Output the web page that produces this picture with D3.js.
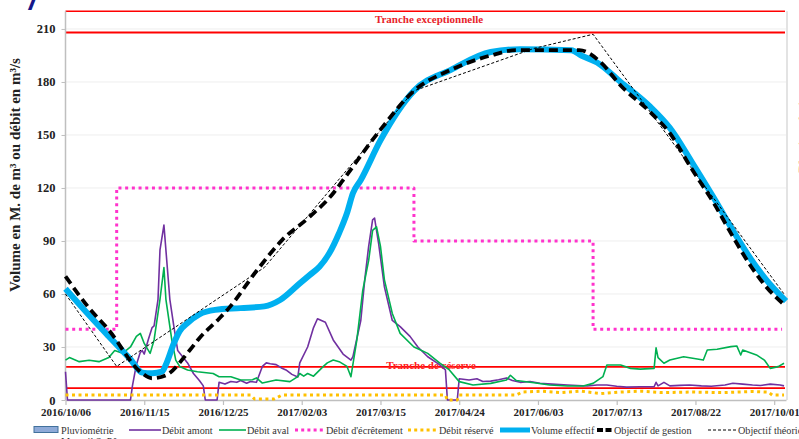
<!DOCTYPE html>
<html>
<head>
<meta charset="utf-8">
<script src="https://cdn.jsdelivr.net/npm/d3@7"></script>
<style>
  html, body { margin: 0; padding: 0; background: #fff; }
  svg { display: block; }
</style>
</head>
<body>
<svg id="chart" width="799" height="439"></svg>
<script>
// ---- Axis ticks -------------------------------------------------------
const xTickLabels = ["2016/10/06", "2016/11/15", "2016/12/25", "2017/02/03", "2017/03/15",
                     "2017/04/24", "2017/06/03", "2017/07/13", "2017/08/22", "2017/10/01"];
const yTickValues = [0, 30, 60, 90, 120, 150, 180, 210];

// ---- Thresholds (M. m3 / m3/s) -----------------------------------------
const trancheExceptionnelle = [208, 220];
const trancheReserve = 18.7;
const seuilBas = 6.7;

// ---- Débit amont (m3/s) -------------------------------------------------
const debitAmont = [
  ["2016-10-06", 16], ["2016-10-07", 0], ["2016-11-08", 0], ["2016-11-09", 8], ["2016-11-11", 20],
  ["2016-11-13", 27], ["2016-11-14", 28], ["2016-11-15", 26], ["2016-11-17", 34], ["2016-11-19", 41],
  ["2016-11-20", 42], ["2016-11-22", 57], ["2016-11-23", 85], ["2016-11-25", 99], ["2016-11-26", 85],
  ["2016-11-28", 57], ["2016-11-30", 42], ["2016-12-02", 28], ["2016-12-07", 21], ["2016-12-10", 15],
  ["2016-12-13", 11], ["2016-12-15", 8], ["2016-12-16", 0], ["2016-12-22", 0], ["2016-12-23", 10],
  ["2016-12-26", 9], ["2016-12-29", 10.5], ["2017-01-01", 10], ["2017-01-03", 11], ["2017-01-06", 9.5],
  ["2017-01-08", 10.5], ["2017-01-11", 10], ["2017-01-14", 19], ["2017-01-16", 21], ["2017-01-18", 20.5],
  ["2017-01-21", 20], ["2017-01-24", 18], ["2017-01-26", 17], ["2017-01-29", 14.5], ["2017-02-01", 13],
  ["2017-02-02", 21], ["2017-02-06", 30], ["2017-02-09", 41], ["2017-02-11", 46], ["2017-02-13", 45],
  ["2017-02-15", 44], ["2017-02-19", 34], ["2017-02-24", 26], ["2017-02-28", 22.6], ["2017-03-01", 24.5],
  ["2017-03-05", 45], ["2017-03-07", 68], ["2017-03-09", 87], ["2017-03-11", 102], ["2017-03-12", 103],
  ["2017-03-14", 89], ["2017-03-17", 64], ["2017-03-21", 45], ["2017-03-25", 41.5], ["2017-03-30", 36],
  ["2017-04-03", 30], ["2017-04-08", 24.5], ["2017-04-14", 20], ["2017-04-17", 17], ["2017-04-18", 0],
  ["2017-04-23", 0], ["2017-04-24", 12], ["2017-04-29", 11.3], ["2017-05-03", 12], ["2017-05-06", 10.5],
  ["2017-05-10", 10.7], ["2017-05-14", 11.5], ["2017-05-18", 12.5], ["2017-05-21", 11], ["2017-05-25", 10],
  ["2017-05-30", 10.5], ["2017-06-04", 9.5], ["2017-06-10", 9], ["2017-06-18", 8.5], ["2017-06-28", 7.9],
  ["2017-07-03", 8.5], ["2017-07-08", 8.5], ["2017-07-13", 7.8], ["2017-07-18", 7.3], ["2017-07-25", 7.5],
  ["2017-08-01", 7.5], ["2017-08-02", 10], ["2017-08-03", 8], ["2017-08-06", 10], ["2017-08-09", 8],
  ["2017-08-14", 8.3], ["2017-08-19", 8.5], ["2017-08-25", 8], ["2017-08-30", 7.8], ["2017-09-06", 8.5],
  ["2017-09-10", 9.5], ["2017-09-15", 9], ["2017-09-20", 8.5], ["2017-09-24", 8.2], ["2017-09-29", 9],
  ["2017-10-04", 8.5], ["2017-10-06", 8]
];

// ---- Débit aval (m3/s) --------------------------------------------------
const debitAval = [
  ["2016-10-06", 22.6], ["2016-10-08", 24], ["2016-10-13", 21.7], ["2016-10-18", 22.5], ["2016-10-23", 21.7],
  ["2016-10-28", 24], ["2016-10-31", 28], ["2016-11-04", 26.4], ["2016-11-08", 30], ["2016-11-11", 36],
  ["2016-11-13", 37.7], ["2016-11-15", 32], ["2016-11-18", 26.4], ["2016-11-20", 34], ["2016-11-23", 57],
  ["2016-11-25", 75], ["2016-11-26", 57], ["2016-11-29", 34], ["2016-12-01", 22.6], ["2016-12-03", 19],
  ["2016-12-07", 17], ["2016-12-12", 16], ["2016-12-20", 15], ["2016-12-23", 13.2], ["2016-12-29", 13.2],
  ["2017-01-03", 11.3], ["2017-01-09", 11.5], ["2017-01-11", 12.5], ["2017-01-14", 9.6], ["2017-01-21", 11.3],
  ["2017-01-28", 10.4], ["2017-02-01", 13.2], ["2017-02-02", 15], ["2017-02-04", 13.5], ["2017-02-06", 15],
  ["2017-02-09", 13.5], ["2017-02-14", 19], ["2017-02-16", 21], ["2017-02-19", 22.6], ["2017-02-22", 21.7],
  ["2017-02-26", 19], ["2017-02-28", 13.2], ["2017-03-03", 34], ["2017-03-06", 62], ["2017-03-09", 79],
  ["2017-03-11", 96], ["2017-03-13", 98], ["2017-03-15", 87], ["2017-03-17", 68], ["2017-03-21", 49],
  ["2017-03-25", 37.7], ["2017-04-01", 30], ["2017-04-03", 29], ["2017-04-08", 26.4], ["2017-04-14", 21],
  ["2017-04-19", 17], ["2017-04-24", 10.4], ["2017-05-01", 8.5], ["2017-05-10", 9.4], ["2017-05-18", 11.3],
  ["2017-05-20", 14], ["2017-05-23", 11], ["2017-06-01", 9.8], ["2017-06-09", 8.5], ["2017-06-18", 7.9],
  ["2017-06-26", 7.9], ["2017-07-01", 9.4], ["2017-07-06", 13.2], ["2017-07-08", 19.8], ["2017-07-15", 19.8],
  ["2017-07-20", 17.9], ["2017-07-25", 17.5], ["2017-08-01", 17.9], ["2017-08-02", 29.5], ["2017-08-03", 24],
  ["2017-08-06", 20.8], ["2017-08-09", 22.6], ["2017-08-16", 24.5], ["2017-08-26", 22.6], ["2017-08-28", 28.3],
  ["2017-09-02", 28.7], ["2017-09-09", 30.2], ["2017-09-12", 30.6], ["2017-09-14", 25.5], ["2017-09-15", 28.3],
  ["2017-09-22", 25.5], ["2017-09-26", 22.6], ["2017-09-29", 17.9], ["2017-10-03", 18.9], ["2017-10-06", 20.8]
];

// ---- Débit d'écrêtement (m3/s), step function ----------------------------
const debitEcretement = [
  ["2016-10-06", 40], ["2016-11-01", 40], ["2016-11-01", 120], ["2017-04-01", 120],
  ["2017-04-01", 90], ["2017-07-01", 90], ["2017-07-01", 40], ["2017-10-05", 40]
];

// ---- Débit réservé (m3/s) ------------------------------------------------
const debitReserve = [
  ["2016-10-06", 2.8], ["2017-01-08", 2.8], ["2017-01-10", 0.6], ["2017-01-20", 0.6], ["2017-01-24", 2.8],
  ["2017-04-17", 2.8], ["2017-04-18", 0], ["2017-04-23", 0], ["2017-04-24", 2.8], ["2017-05-23", 2.8],
  ["2017-05-26", 4.5], ["2017-06-05", 5], ["2017-06-15", 4.2], ["2017-06-25", 5], ["2017-07-05", 3.6],
  ["2017-07-15", 4.5], ["2017-07-25", 5], ["2017-08-05", 4.2], ["2017-08-20", 4.5], ["2017-09-05", 4.2],
  ["2017-09-20", 4.8], ["2017-09-28", 4.5], ["2017-09-30", 2.8], ["2017-10-06", 2.8]
];

// ---- Volume effectif (M. m3) --------------------------------------------
const volumeEffectif = [
  ["2016-10-06", 63], ["2016-10-18", 48], ["2016-10-28", 36], ["2016-11-08", 23], ["2016-11-14", 15.5],
  ["2016-11-19", 15.2], ["2016-11-24", 16], ["2016-11-26", 20], ["2016-11-30", 32], ["2016-12-03", 39],
  ["2016-12-07", 43.6], ["2016-12-13", 48.5], ["2016-12-21", 51], ["2017-01-03", 52], ["2017-01-15", 53],
  ["2017-01-23", 56.6], ["2017-02-02", 66], ["2017-02-07", 70.7], ["2017-02-12", 75.4], ["2017-02-17", 83],
  ["2017-02-22", 94.5], ["2017-02-26", 105.8], ["2017-03-01", 117], ["2017-03-05", 124.5], ["2017-03-15", 147],
  ["2017-04-01", 175], ["2017-04-20", 187], ["2017-05-10", 197], ["2017-05-25", 198.5], ["2017-06-20", 198],
  ["2017-06-25", 195], ["2017-07-03", 191], ["2017-07-15", 180], ["2017-07-30", 166], ["2017-08-09", 154],
  ["2017-08-20", 135], ["2017-08-31", 115], ["2017-09-10", 96], ["2017-09-19", 80], ["2017-09-27", 68],
  ["2017-10-07", 56]
];

// ---- Objectif de gestion (M. m3) ----------------------------------------
const objectifGestion = [
  ["2016-10-06", 70], ["2016-10-18", 52], ["2016-10-28", 39.6], ["2016-11-13", 16], ["2016-11-19", 12.3],
  ["2016-11-26", 14], ["2016-12-08", 28], ["2016-12-13", 35], ["2016-12-23", 46], ["2016-12-28", 52],
  ["2017-01-11", 73], ["2017-01-24", 90.5], ["2017-02-07", 103.7], ["2017-02-19", 117], ["2017-02-24", 124.5],
  ["2017-03-15", 153], ["2017-04-01", 175], ["2017-04-20", 187], ["2017-05-10", 195], ["2017-05-23", 198],
  ["2017-06-24", 198], ["2017-07-05", 191], ["2017-07-15", 178], ["2017-07-30", 163], ["2017-08-09", 151],
  ["2017-08-20", 131], ["2017-08-31", 112], ["2017-09-10", 92.5], ["2017-09-19", 76], ["2017-09-27", 64],
  ["2017-10-06", 54]
];

// ---- Objectif théorique (M. m3) -----------------------------------------
const objectifTheorique = [
  ["2016-10-06", 60], ["2016-11-01", 19], ["2017-01-15", 75], ["2017-04-01", 175],
  ["2017-06-01", 199], ["2017-07-01", 207], ["2017-10-06", 60]
];

// ---- Scales --------------------------------------------------------------
const parseDay = d3.utcParse("%Y-%m-%d");
const parseTick = d3.utcParse("%Y/%m/%d");
const x = d3.scaleUtc().domain([parseDay("2016-10-06"), parseDay("2017-10-07")]).range([65.5, 786]);
const y = d3.scaleLinear().domain([0, 220]).range([400, 11.3]);

const svg = d3.select("#chart");
const serif = "'Liberation Serif', 'DejaVu Serif', serif";

// Title fragment at the very top
svg.append("text")
  .attr("x", 29).attr("y", 10)
  .attr("font-family", "'Liberation Sans', sans-serif")
  .attr("font-weight", "bold").attr("font-style", "italic")
  .attr("font-size", 30).attr("fill", "#15178a")
  .text("/");

// Horizontal gridlines
svg.append("g").selectAll("line")
  .data(yTickValues.filter(v => v > 0))
  .join("line")
  .attr("x1", x.range()[0]).attr("x2", x.range()[1])
  .attr("y1", d => y(d)).attr("y2", d => y(d))
  .attr("stroke", "#eeeeee").attr("stroke-width", 1);

// Right frame
svg.append("line")
  .attr("x1", 787).attr("x2", 787).attr("y1", y(220)).attr("y2", y(0))
  .attr("stroke", "#d0d0d0").attr("stroke-width", 1.2);

// Red thresholds
const redLines = [trancheExceptionnelle[1], trancheExceptionnelle[0], trancheReserve, seuilBas];
svg.append("g").selectAll("line")
  .data(redLines)
  .join("line")
  .attr("x1", x.range()[0]).attr("x2", 785)
  .attr("y1", d => y(d)).attr("y2", d => y(d))
  .attr("stroke", "#ff0000").attr("stroke-width", (d, i) => i === 0 ? 1.4 : 1.8);

svg.append("text")
  .attr("x", 429).attr("y", 22.5)
  .attr("text-anchor", "middle")
  .attr("font-family", serif).attr("font-weight", "bold").attr("font-size", 11)
  .attr("fill", "#e8232b")
  .text("Tranche exceptionnelle");

svg.append("text")
  .attr("x", 431).attr("y", 369)
  .attr("text-anchor", "middle")
  .attr("font-family", serif).attr("font-weight", "bold").attr("font-size", 11)
  .attr("fill", "#ff2020")
  .text("Tranche de réserve");

// Axes
const xAxis = d3.axisBottom(x)
  .tickValues(xTickLabels.map(parseTick))
  .tickFormat(d3.utcFormat("%Y/%m/%d"))
  .tickSize(5).tickSizeOuter(0);
const gx = svg.append("g").attr("transform", "translate(0,400)").call(xAxis);
gx.select(".domain").attr("stroke", "#bfbfbf").attr("stroke-width", 1.5);
gx.selectAll(".tick line").attr("stroke", "#bfbfbf").attr("stroke-width", 1.2);
gx.selectAll(".tick text")
  .attr("font-family", serif).attr("font-weight", "bold").attr("font-size", 11)
  .attr("fill", "#222").attr("dy", "0.75em").attr("y", 7.5);

const yAxis = d3.axisLeft(y).tickValues(yTickValues).tickSize(4).tickSizeOuter(0);
const gy = svg.append("g").attr("transform", `translate(${x.range()[0]},0)`).call(yAxis);
gy.select(".domain").attr("stroke", "#bfbfbf").attr("stroke-width", 1.5)
  .attr("d", `M0,${y(220)}V${y(0)}`);
gy.selectAll(".tick line").attr("stroke", "#bfbfbf");
gy.selectAll(".tick text")
  .attr("font-family", serif).attr("font-weight", "bold").attr("font-size", 12.5)
  .attr("fill", "#222").attr("x", -10);

// Axis title
svg.append("text")
  .attr("transform", "translate(20,175) rotate(-90)")
  .attr("text-anchor", "middle")
  .attr("font-family", serif).attr("font-weight", "bold").attr("font-size", 15)
  .attr("fill", "#222")
  .text("Volume en M. de m³ ou débit en m³/s");

// Secondary axis title, cut by the right edge
svg.append("text")
  .attr("transform", "translate(809,112) rotate(-90)")
  .attr("text-anchor", "middle")
  .attr("font-family", serif).attr("font-weight", "bold").attr("font-size", 14)
  .attr("fill", "#222")
  .text("Pluviométrie en mm");

// ---- Series ----------------------------------------------------------------
const toPts = arr => arr.map(([d, v]) => [parseDay(d), v]);
const lineLinear = d3.line().x(d => x(d[0])).y(d => y(d[1]));
const lineSmooth = d3.line().x(d => x(d[0])).y(d => y(d[1])).curve(d3.curveMonotoneX);

const series = [
  { data: debitAmont, gen: lineLinear, stroke: "#7030a0", width: 1.6 },
  { data: debitAval, gen: lineLinear, stroke: "#00b050", width: 1.6 },
  { data: debitEcretement, gen: lineLinear, stroke: "#ff33cc", width: 3, dash: "3,3.7" },
  { data: debitReserve, gen: lineLinear, stroke: "#ffc000", width: 3, dash: "3,3.5" },
  { data: volumeEffectif, gen: lineSmooth, stroke: "#00b0f0", width: 6 },
  { data: objectifGestion, gen: lineSmooth, stroke: "#000", width: 3.8, dash: "9,5" },
  { data: objectifTheorique, gen: lineLinear, stroke: "#000", width: 1, dash: "3,2" }
];

svg.append("g").selectAll("path")
  .data(series)
  .join("path")
  .attr("d", s => s.gen(toPts(s.data)))
  .attr("fill", "none")
  .attr("stroke", s => s.stroke)
  .attr("stroke-width", s => s.width)
  .attr("stroke-dasharray", s => s.dash || null)
  .attr("stroke-linejoin", "round");

// ---- Legend --------------------------------------------------------------
const legendItems = [
  { label: "Pluviométrie", sub: "Mareuil St Pô", kind: "rect", x0: 34, x1: 58, tx: 61 },
  { label: "Débit amont", kind: "line", stroke: "#7030a0", width: 1.6, x0: 129, x1: 161, tx: 162 },
  { label: "Débit aval", kind: "line", stroke: "#00b050", width: 1.6, x0: 219, x1: 246, tx: 247 },
  { label: "Débit d'écrêtement", kind: "line", stroke: "#ff33cc", width: 3, dash: "3,3.2", x0: 295, x1: 324, tx: 326 },
  { label: "Débit réservé", kind: "line", stroke: "#ffc000", width: 3, dash: "3,3.2", x0: 408, x1: 437, tx: 439 },
  { label: "Volume effectif", kind: "line", stroke: "#00b0f0", width: 5, x0: 500, x1: 530, tx: 531 },
  { label: "Objectif de gestion", kind: "line", stroke: "#000", width: 3.8, dash: "6,2.5", x0: 597, x1: 613, tx: 614 },
  { label: "Objectif théorique", kind: "line", stroke: "#000", width: 1, dash: "3,2", x0: 708, x1: 737, tx: 738 }
];
const ly = 430;
const lg = svg.append("g");
legendItems.forEach(it => {
  if (it.kind === "rect") {
    lg.append("rect").attr("x", it.x0).attr("y", ly - 3.5).attr("width", it.x1 - it.x0).attr("height", 6)
      .attr("fill", "#8eaad8").attr("stroke", "#41719c").attr("stroke-width", 1);
  } else {
    lg.append("line").attr("x1", it.x0).attr("x2", it.x1).attr("y1", ly).attr("y2", ly)
      .attr("stroke", it.stroke).attr("stroke-width", it.width)
      .attr("stroke-dasharray", it.dash || null);
  }
  lg.append("text").attr("x", it.tx).attr("y", ly + 3.5)
    .attr("font-family", serif).attr("font-size", 10.2).attr("fill", "#333")
    .text(it.label);
  if (it.sub) {
    lg.append("text").attr("x", it.tx).attr("y", ly + 15)
      .attr("font-family", serif).attr("font-size", 10.2).attr("fill", "#333")
      .text(it.sub);
  }
});
</script>
</body>
</html>
